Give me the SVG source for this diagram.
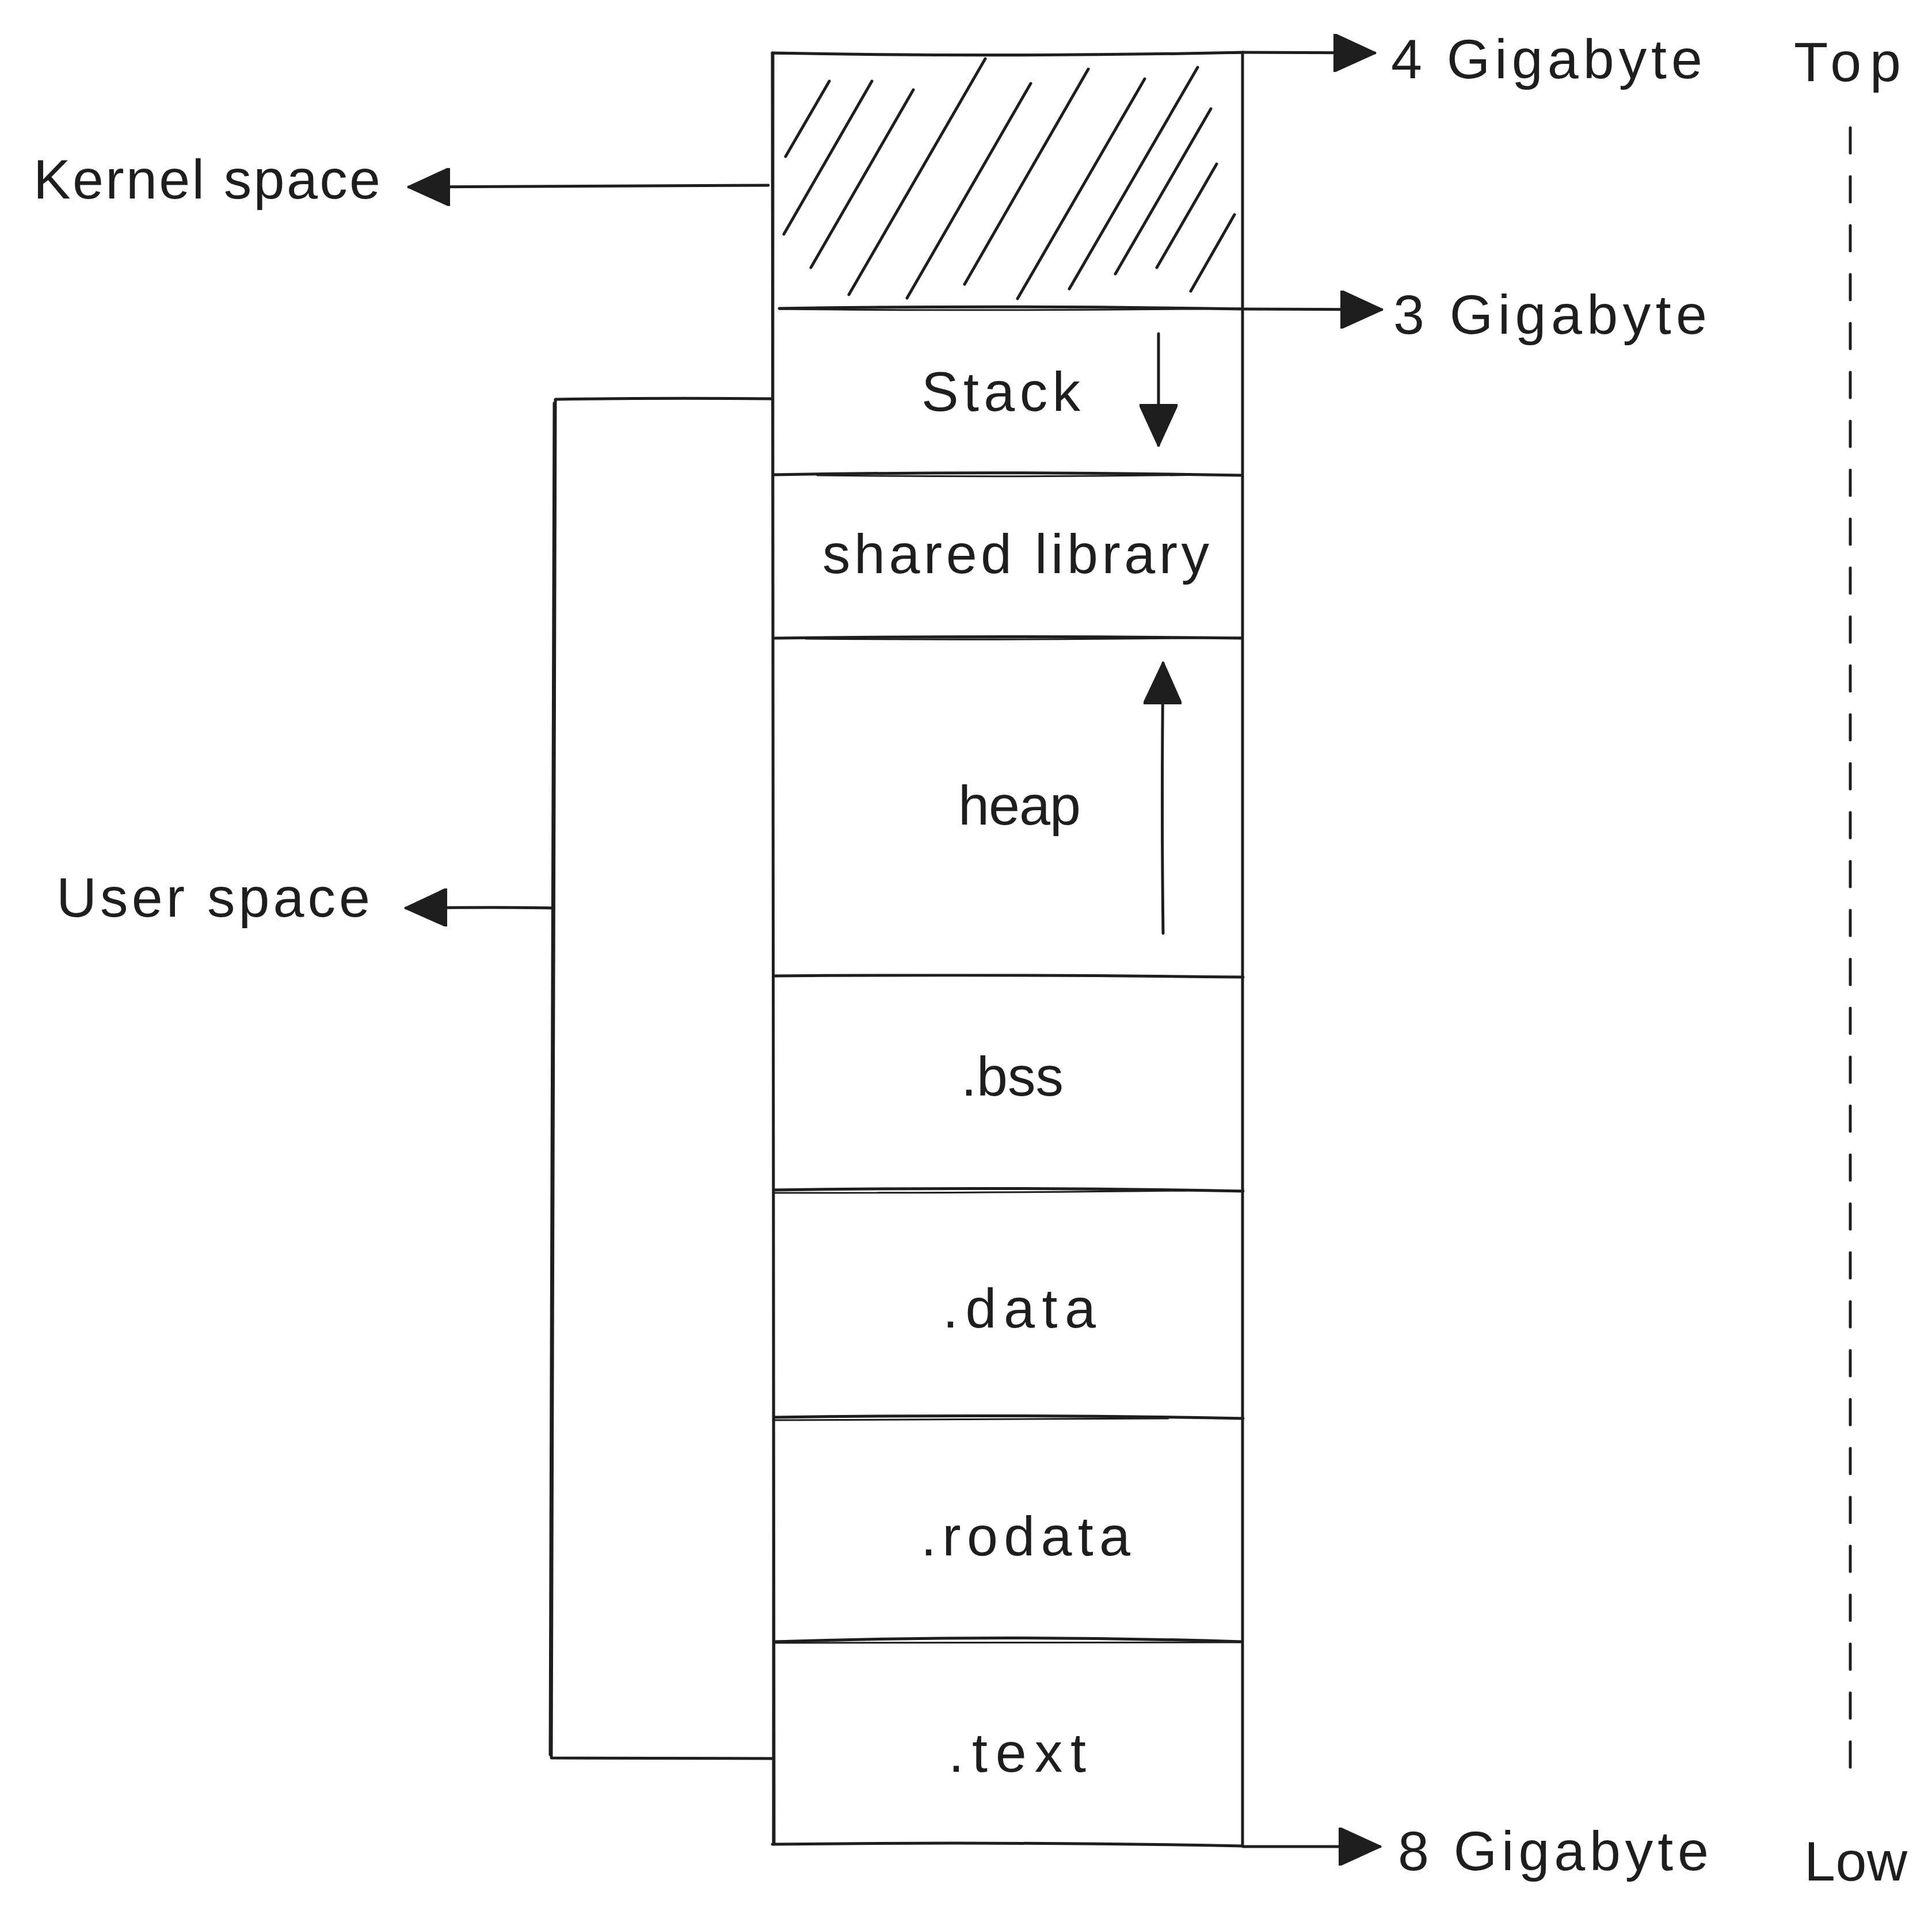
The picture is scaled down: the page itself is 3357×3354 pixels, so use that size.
<svg xmlns="http://www.w3.org/2000/svg" width="3357" height="3354" viewBox="0 0 3357 3354">
<style>
  .ln{fill:none;stroke:#1e1e1e;stroke-width:5;stroke-linecap:round;stroke-linejoin:round}
  .thin{fill:none;stroke:#1e1e1e;stroke-width:3;stroke-linecap:round}
  .hatch{fill:none;stroke:#1e1e1e;stroke-width:5;stroke-linecap:round}
  .t{font-family:"Liberation Sans","DejaVu Sans",sans-serif;font-size:97px;fill:#1e1e1e}
  .dash{fill:none;stroke:#1e1e1e;stroke-width:5;stroke-dasharray:44 41;stroke-linecap:round}
</style>
<defs>
  <marker id="ah" viewBox="0 0 10 10" refX="10" refY="5" markerUnits="userSpaceOnUse" markerWidth="72" markerHeight="66" orient="auto" preserveAspectRatio="none">
    <path d="M0,0 L10,5 L0,10 Z" fill="#1e1e1e" stroke="#1e1e1e" stroke-width="0.6" stroke-linejoin="round"/>
  </marker>
</defs>
<rect width="3357" height="3354" fill="#ffffff"/>

<g id="column">
  <path class="ln" d="M1342,92 Q1750,100 2160,91"/>
  <path class="thin" d="M1342,93 Q1750,97 2160,92"/>
  <path class="ln" d="M1342,92 L1345,3205"/>
  <path class="thin" d="M1344,95 L1343,3203"/>
  <path class="ln" d="M2159,91 L2159,3207"/>
  <path class="ln" d="M1342,3205 Q1750,3200 2159,3208"/>
</g>

<g id="node-kernel">
  <path class="ln" d="M1354,536 Q1750,530 2158,537"/>
  <path class="thin" d="M1354,537 Q1700,541 2158,536"/>
  <g id="hatching">
    <path class="hatch" d="M1441,141 L1365,272"/>
    <path class="hatch" d="M1515,141 L1362,407"/>
    <path class="hatch" d="M1587,156 L1409,465"/>
    <path class="hatch" d="M1712,102 L1475,512"/>
    <path class="hatch" d="M1791,145 L1576,518"/>
    <path class="hatch" d="M1891,120 L1676,494"/>
    <path class="hatch" d="M1989,137 L1768,519"/>
    <path class="hatch" d="M2081,117 L1858,502"/>
    <path class="hatch" d="M2104,189 L1938,476"/>
    <path class="hatch" d="M2114,285 L2010,465"/>
    <path class="hatch" d="M2145,373 L2069,506"/>
  </g>
</g>

<g id="node-stack">
  <text class="t" x="1601" y="714" textLength="276">Stack</text>
  <path class="ln" d="M1345,825 Q1750,818 2158,826"/>
  <path class="thin" d="M1420,826 Q1750,830 2100,825"/>
</g>

<g id="node-shared">
  <text class="t" x="1429" y="996" textLength="672">shared library</text>
  <path class="ln" d="M1345,1109 Q1750,1104 2158,1109"/>
  <path class="thin" d="M1400,1110 Q1750,1113 2158,1108"/>
</g>

<g id="node-heap">
  <text class="t" x="1665" y="1433" textLength="213">heap</text>
  <path class="ln" d="M1345,1696 Q1750,1693 2160,1698"/>
</g>

<g id="node-bss">
  <text class="t" x="1670" y="1904" textLength="178">.bss</text>
  <path class="ln" d="M1345,2068 Q1750,2062 2160,2070"/>
  <path class="thin" d="M1345,2073 Q1750,2073 2060,2069"/>
</g>

<g id="node-data">
  <text class="t" x="1638" y="2307" textLength="266">.data</text>
  <path class="ln" d="M1345,2463 Q1750,2457 2160,2465"/>
  <path class="thin" d="M1345,2468 Q1750,2467 2030,2465"/>
</g>

<g id="node-rodata">
  <text class="t" x="1600" y="2703" textLength="364">.rodata</text>
  <path class="ln" d="M1345,2853 Q1750,2840 2158,2853"/>
  <path class="thin" d="M1345,2855 Q1750,2856 2158,2854"/>
</g>

<g id="node-text">
  <text class="t" x="1648" y="3079" textLength="239">.text</text>
</g>

<g id="labels">
  <text class="t" x="58" y="345" textLength="603">Kernel space</text>
  <text class="t" x="98" y="1593" textLength="545">User space</text>
  <text class="t" x="2417" y="136" textLength="541">4 Gigabyte</text>
  <text class="t" x="2421" y="580" textLength="545">3 Gigabyte</text>
  <text class="t" x="2429" y="3250" textLength="540">8 Gigabyte</text>
  <text class="t" x="3117" y="141" textLength="186">Top</text>
  <text class="t" x="3135" y="3268" textLength="179">Low</text>
</g>

<g id="connectors">
  <path class="ln" d="M2160,91 L2389,92" marker-end="url(#ah)"/>
  <path class="ln" d="M2160,537 L2401,538" marker-end="url(#ah)"/>
  <path class="ln" d="M2160,3209 L2398,3209" marker-end="url(#ah)"/>
  <path class="ln" d="M1335,322 Q1050,324 710,325" marker-end="url(#ah)"/>
  <path class="ln" d="M960,1578 Q880,1576 705,1578" marker-end="url(#ah)"/>
  <path class="ln" d="M2013,580 L2013,774" marker-end="url(#ah)"/>
  <path class="ln" d="M2021,1622 Q2018,1400 2021,1152" marker-end="url(#ah)"/>
  <path class="ln" d="M1342,693 Q1150,691 965,694 L958,3055 L1342,3056"/>
  <path class="thin" d="M962,700 L955,3050"/>
  <path class="dash" d="M3215,222 L3215,3072"/>
</g>
</svg>
